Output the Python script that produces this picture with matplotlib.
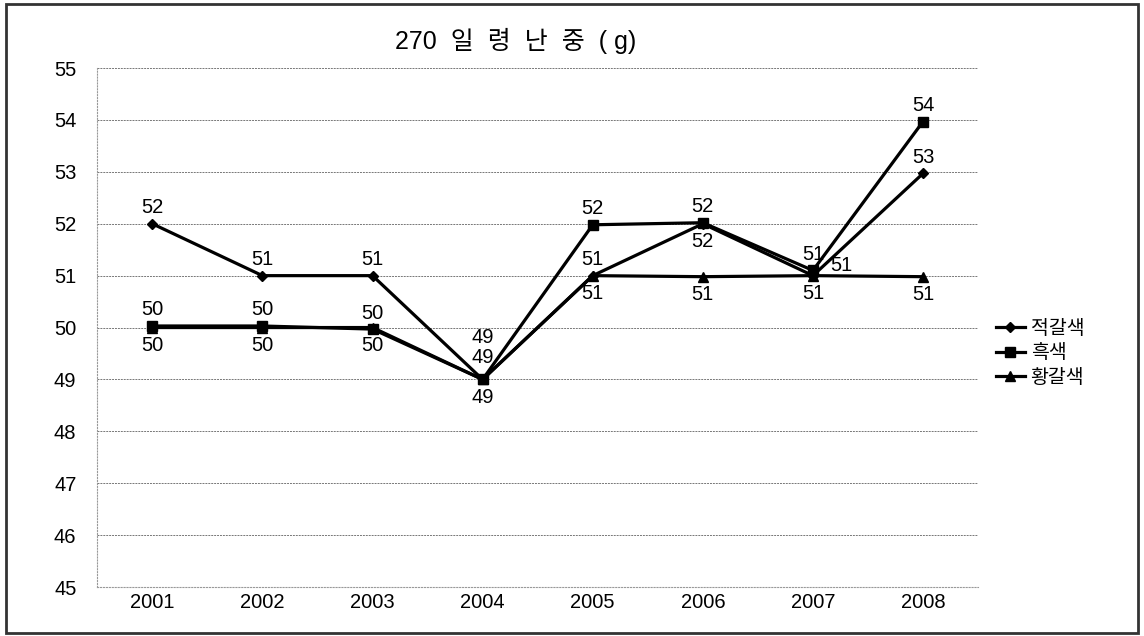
import matplotlib.pyplot as plt
from matplotlib.patches import Rectangle

plt.rcParams['font.family'] = ['Liberation Sans', 'Noto Sans CJK KR', 'DejaVu Sans']

# data
years = ['2001', '2002', '2003', '2004', '2005', '2006', '2007', '2008']
red_brown = [52.0, 51.0, 51.0, 49.0, 51.0, 52.0, 51.0, 52.97]    # 적갈색
black = [50.03, 50.03, 49.97, 49.0, 51.98, 52.02, 51.1, 53.97]   # 흑색
yellow_brown = [50.0, 50.0, 50.0, 49.0, 51.0, 50.98, 51.0, 50.98]  # 황갈색

names = ['적갈색', '흑색', '황갈색']
markers = ['D', 's', '^']
msizes = [5, 7.5, 7]

# where each value label sits (offset in pixels from the point)
A, B, R = (0, 16), (0, -18), (28, 10)
label_pos = [
    [A, A, A, (0, 22), A, B, R, A],
    [A, A, A, (0, 42), A, A, A, A],
    [B, B, B, B, B, B, B, B],
]

fig = plt.figure(figsize=(11.44, 6.36), dpi=100)
ax = fig.add_axes([0.085, 0.077, 0.770, 0.816])

x = list(range(len(years)))
for vals, name, mk, ms, pos in zip([red_brown, black, yellow_brown], names, markers, msizes, label_pos):
    ax.plot(x, vals, color='black', linewidth=2.3, marker=mk, markersize=ms, label=name)
    for xi, v, off in zip(x, vals, pos):
        ax.annotate(f'{round(v):d}', (xi, v), xytext=off, textcoords='offset pixels',
                    ha='center', va='center', fontsize=14.5, color='black')

ax.set_xlim(-0.5, 7.5)
ax.set_ylim(45, 55)
ax.set_yticks(range(45, 56))
ax.set_xticks(x)
ax.set_xticklabels(years)
ax.tick_params(axis='both', length=0, labelsize=14.5)
ax.tick_params(axis='x', pad=4)
ax.tick_params(axis='y', pad=15)

ax.grid(axis='y', color='#777777', linestyle=(0, (2, 1)), linewidth=0.7)
ax.set_axisbelow(True)
for s in ['top', 'right']:
    ax.spines[s].set_visible(False)
for s in ['left', 'bottom']:
    ax.spines[s].set_color('#999999')
    ax.spines[s].set_linestyle(':')
    ax.spines[s].set_linewidth(0.8)

fig.text(0.451, 0.935, '270  일  령  난  중  ( g)', ha='center', va='center', fontsize=18)

ax.legend(loc='center left', bbox_to_anchor=(1.0, 0.45), frameon=False, fontsize=14,
          handlelength=1.5, handletextpad=0.3, labelspacing=0.35)

# outer frame
fig.patches.append(Rectangle((0.005, 0.005), 0.99, 0.988, transform=fig.transFigure,
                             fill=False, edgecolor='#333333', linewidth=2))

fig.savefig('out.png', dpi=100)
